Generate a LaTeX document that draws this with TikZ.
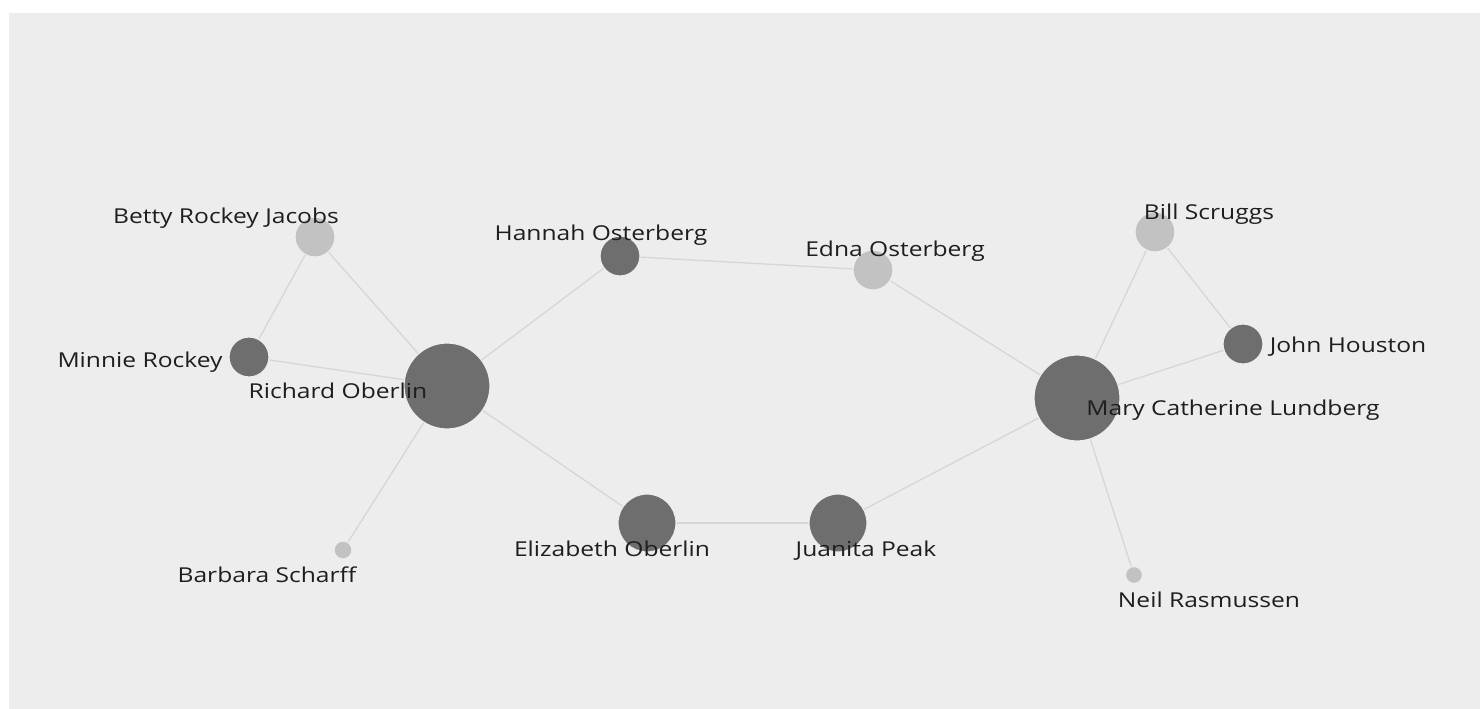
\documentclass[tikz,border=0pt]{standalone}
\usepackage{fontspec}
\setmainfont{Open Sans}[FakeStretch=1.2]
\definecolor{bg}{HTML}{EDEDED}
\definecolor{dark}{HTML}{6E6E6E}
\definecolor{light}{HTML}{C2C2C2}
\definecolor{edgec}{HTML}{D6D6D6}
\definecolor{txt}{HTML}{1E1E1E}
\begin{document}
\begin{tikzpicture}[x=1pt,y=-1pt,
  pnode/.style={circle,inner sep=0pt,draw=bg,line width=1.2pt},
  darknode/.style={pnode,fill=dark},
  lightnode/.style={pnode,fill=light},
  lab/.style={font=\fontsize{20.5}{22}\selectfont,text=txt,inner sep=0pt},
  link/.style={draw=edgec,line width=1.3pt}]
\useasboundingbox (0,0) rectangle (1480,709);
\fill[white] (0,0) rectangle (1480,709);
\fill[bg] (9,13) rectangle (1480,709);
% nodes
\node[lightnode,minimum size=40] (betty) at (315,237) {};
\node[darknode,minimum size=40] (minnie) at (249,357) {};
\node[darknode,minimum size=86] (richard) at (447,386) {};
\node[darknode,minimum size=40] (hannah) at (620,256) {};
\node[lightnode,minimum size=40] (edna) at (873,270) {};
\node[lightnode,minimum size=40] (bill) at (1155,232) {};
\node[darknode,minimum size=40] (john) at (1243,344) {};
\node[darknode,minimum size=86] (mary) at (1077,398) {};
\node[lightnode,minimum size=18] (barbara) at (343,550) {};
\node[darknode,minimum size=58] (eliz) at (647,523) {};
\node[darknode,minimum size=58] (juanita) at (838,523) {};
\node[lightnode,minimum size=17] (neil) at (1134,575) {};
% edges
\path[link] (betty) -- (minnie);
\path[link] (betty) -- (richard);
\path[link] (minnie) -- (richard);
\path[link] (richard) -- (hannah);
\path[link] (richard) -- (eliz);
\path[link] (richard) -- (barbara);
\path[link] (hannah) -- (edna);
\path[link] (edna) -- (mary);
\path[link] (eliz) -- (juanita);
\path[link] (juanita) -- (mary);
\path[link] (mary) -- (bill);
\path[link] (bill) -- (john);
\path[link] (john) -- (mary);
\path[link] (mary) -- (neil);
% labels
\node[lab] (lbetty) at (226,218) {Betty Rockey Jacobs};
\node[lab] (lminnie) at (140,362) {Minnie Rockey};
\node[lab] (lrichard) at (338,391) {Richard Oberlin};
\node[lab] (lhannah) at (601,235) {Hannah Osterberg};
\node[lab] (ledna) at (895,251) {Edna Osterberg};
\node[lab] (lbill) at (1209,214) {Bill Scruggs};
\node[lab] (ljohn) at (1348,347) {John Houston};
\node[lab] (lmary) at (1233,410) {Mary Catherine Lundberg};
\node[lab] (lbarbara) at (267,575) {Barbara Scharff};
\node[lab] (leliz) at (612,549) {Elizabeth Oberlin};
\node[lab] (ljuanita) at (866,551) {Juanita Peak};
\node[lab] (lneil) at (1209,600) {Neil Rasmussen};
\end{tikzpicture}
\end{document}
